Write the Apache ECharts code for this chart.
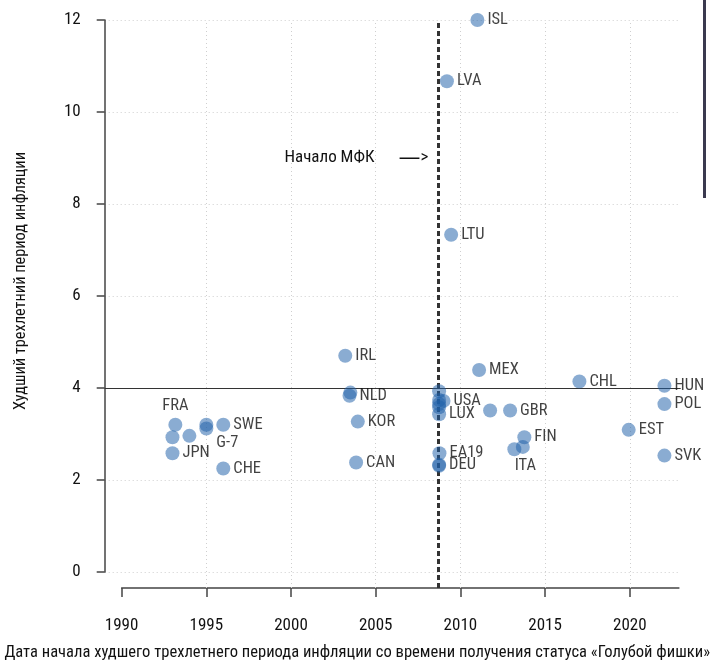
<!DOCTYPE html>
<html>
<head>
<meta charset="utf-8">
<script src="https://cdn.jsdelivr.net/npm/echarts@6/dist/echarts.min.js"></script>
<style>
html,body{margin:0;padding:0;background:#fff;}
#c{width:714px;height:662px;}
</style>
</head>
<body>
<div id="c"></div>
<script>
// ---- data ----
const codes  = ['ISL','LVA','LTU','IRL','','NLD','KOR','CAN','FRA','','','JPN','','G-7','SWE','CHE','MEX','CHL','HUN','POL','EST','SVK','','','','','USA','LUX','','GBR','FIN','','ITA','EA19','DEU',''];
const years  = [2011.0,2009.2,2009.45,2003.2,2003.5,2003.45,2003.94,2003.84,1993.17,1993.0,1994.0,1993.0,1995.0,1995.0,1996.0,1996.0,2011.1,2017.02,2022.04,2022.04,2019.93,2022.04,2008.74,2008.74,2008.74,2008.74,2009.0,2008.74,2011.75,2012.93,2013.77,2013.68,2013.18,2008.76,2008.74,2008.74];
const values = [12.0,10.67,7.33,4.70,3.90,3.83,3.27,2.38,3.20,2.93,2.96,2.58,3.20,3.12,3.20,2.25,4.39,4.14,4.05,3.65,3.09,2.53,3.93,3.74,3.65,3.58,3.72,3.43,3.51,3.51,2.93,2.72,2.67,2.58,2.33,2.31];
const xTicks = [1990,1995,2000,2005,2010,2015,2020];
const gridYears = [1995,2000,2005,2010,2015,2020];
const imfStartYear = 2008.7;
const threshold = 4;
const annotationText = 'Начало МФК';
const annotationValue = 9.0;
const xTitle = 'Дата начала худшего трехлетнего периода инфляции со времени получения статуса «Голубой фишки»';
const yTitle = 'Худший трехлетний период инфляции';

// ---- styles ----
const FONT = "'Roboto Condensed','Open Sans Condensed','DejaVu Sans Condensed',sans-serif";
function fitSize(text, targetWidth){
  const ctx = document.createElement('canvas').getContext('2d');
  ctx.font = '20px ' + FONT;
  return Math.min(18, 20 * targetWidth / ctx.measureText(text).width);
}
const xTitleSize = fitSize(xTitle, 706);
const yTitleSize = fitSize(yTitle, 258);

const labelPlacement = {
  'FRA': {position:'top', distance:3},
  'G-7': {position:'right', offset:[0,14]},
  'ITA': {position:'bottom', offset:[11,-2]}
};

const pts = years.map((x,i)=>{
  const item = {name: codes[i], value:[x, values[i]]};
  if (labelPlacement[codes[i]]) item.label = Object.assign({}, labelPlacement[codes[i]]);
  return item;
});

const chart = echarts.init(document.getElementById('c'), null, {renderer:'canvas'});
const dotted = {color:'#cfcfcf', width:1, type:[1,3]};
const txt = {fontSize:17, color:'#111', fontFamily:FONT};

chart.setOption({
  animation:false,
  backgroundColor:'#fff',
  textStyle:{fontFamily:FONT},
  grid:[
    {left:104.7, top:20, width:576, height:552, outerBoundsMode:'none', containLabel:false},
    {left:121.6, top:20, width:557.3, height:568, outerBoundsMode:'none', containLabel:false}
  ],
  xAxis:[
    {type:'value', gridIndex:0, min:1989, max:2023, show:false},
    {type:'value', gridIndex:1, min:1990, max:2022.9, position:'bottom',
     axisLine:{show:true, lineStyle:{color:'#444', width:1.5}},
     axisTick:{show:true, length:9, lineStyle:{color:'#444', width:1.5}, customValues:xTicks},
     axisLabel:Object.assign({show:true, customValues:xTicks, margin:29, formatter:v=>String(v)}, txt),
     splitLine:{show:false},
     name:xTitle, nameLocation:'middle', nameGap:56,
     nameTextStyle:{fontSize:xTitleSize, color:'#111', fontFamily:FONT, padding:[0,86,0,0]}}
  ],
  yAxis:[
    {type:'value', gridIndex:0, min:0, max:12, interval:2,
     axisLine:{show:true, lineStyle:{color:'#444', width:1.5}},
     axisTick:{show:true, length:8, lineStyle:{color:'#444', width:1.5}},
     axisLabel:Object.assign({margin:24, formatter:v=>String(v)}, txt),
     splitLine:{show:true, lineStyle:dotted}},
    {type:'value', gridIndex:1, min:0, max:1, show:false}
  ],
  series:[
    {
      type:'scatter', xAxisIndex:1, yAxisIndex:1, data:[], silent:true,
      markLine:{
        silent:true, symbol:['none','none'], animation:false,
        label:{show:false},
        data: gridYears.map(v=>({xAxis:v, lineStyle:dotted})).concat([
          {xAxis:imfStartYear, lineStyle:{color:'#333', width:3, type:[5,3]}}
        ])
      }
    },
    {
      type:'scatter', xAxisIndex:0, yAxisIndex:0, z:5,
      symbolSize:14,
      itemStyle:{color:'rgba(31,95,168,0.65)'},
      label:{show:true, position:'right', distance:3, formatter:'{b}', fontSize:16.5, color:'#111', fontFamily:FONT},
      emphasis:{disabled:true},
      data:pts,
      markLine:{
        silent:true, symbol:['none','none'], animation:false,
        label:{show:false},
        data:[{yAxis:threshold, lineStyle:{color:'#333', width:1.2, type:'solid'}}]
      },
      markPoint:{
        silent:true, symbol:'circle', symbolSize:0,
        data:[{coord:[imfStartYear-0.6, annotationValue], value:annotationText,
          label:{show:true, position:'left', distance:0,
            formatter:'{t|' + annotationText + '}{d|—}{g|>}',
            rich:{
              t:{fontSize:17, color:'#111', fontFamily:FONT, padding:[0,24,0,0]},
              d:{fontSize:22, color:'#111', fontFamily:"'DejaVu Sans',sans-serif"},
              g:{fontSize:17, color:'#111', fontFamily:FONT}
            }}}]
      }
    }
  ],
  graphic:[
    {type:'line', shape:{x1:704.5, y1:0, x2:704.5, y2:198}, style:{stroke:'#3b3a4f', lineWidth:3}, silent:true},
    {type:'text', x:20.7, y:281, rotation:Math.PI/2, silent:true,
     style:{text:yTitle, align:'center', verticalAlign:'middle', fill:'#111',
            font: yTitleSize.toFixed(2) + 'px ' + FONT}}
  ]
});
</script>
</body>
</html>
